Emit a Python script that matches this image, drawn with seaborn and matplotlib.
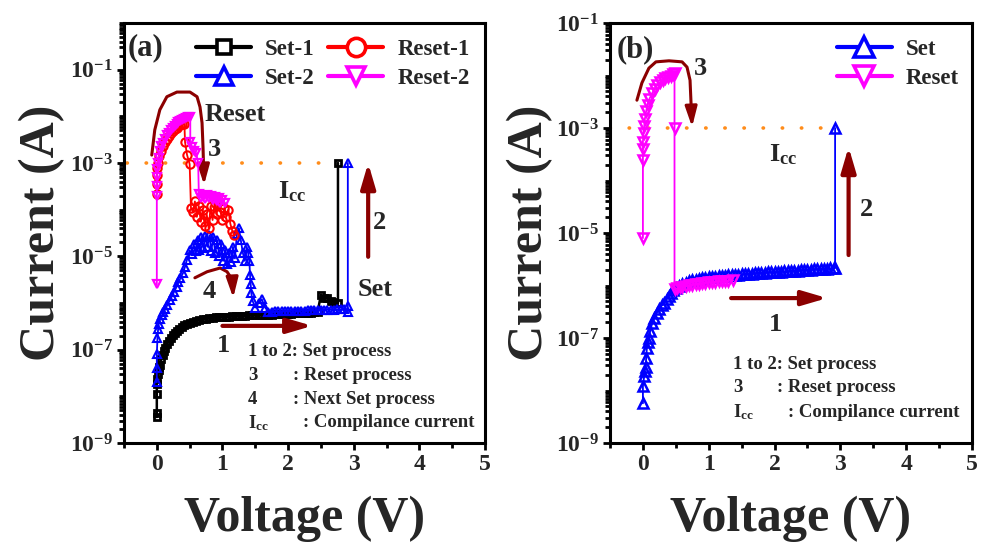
import matplotlib
matplotlib.use("Agg")
import matplotlib.pyplot as plt
import seaborn as sns
from matplotlib.patches import FancyArrowPatch
from matplotlib.path import Path
from matplotlib.ticker import (FixedLocator, LogLocator, LogFormatterSciNotation,
                               MultipleLocator, NullFormatter)

# ---------------- data: panel (a) ----------------
a_set1_v = [0.00, 0.00, 0.00, 0.00, 0.01, 0.02, 0.03, 0.04, 0.05, 0.07, 0.09, 0.11, 0.13, 0.15,
            0.18, 0.21, 0.24, 0.27, 0.30, 0.34, 0.38, 0.42, 0.46, 0.50, 0.55, 0.60, 0.65, 0.70,
            0.75, 0.80, 0.85, 0.90, 0.95, 1.00, 1.05, 1.10, 1.15, 1.20, 1.25, 1.30, 1.35, 1.40,
            1.45, 1.50, 1.55, 1.60, 1.65, 1.70, 1.75, 1.80, 1.85, 1.90, 1.95, 2.00, 2.05, 2.10,
            2.15, 2.20, 2.25, 2.30, 2.35, 2.40, 2.45, 2.50, 2.55, 2.60, 2.65, 2.70, 2.76, 2.76]
a_set1_i = [3.6e-9, 4.3e-9, 1.15e-8, 1.8e-8, 2.4e-8, 3.0e-8, 3.6e-8, 4.2e-8, 4.8e-8, 6.2e-8,
            7.8e-8, 9.5e-8, 1.1e-7, 1.3e-7, 1.55e-7, 1.8e-7, 2.05e-7, 2.3e-7, 2.5e-7, 2.8e-7,
            3.05e-7, 3.3e-7, 3.55e-7, 3.75e-7, 3.95e-7, 4.15e-7, 4.3e-7, 4.45e-7, 4.6e-7, 4.7e-7,
            4.8e-7, 4.9e-7, 4.95e-7, 5.0e-7, 5.05e-7, 5.1e-7, 5.15e-7, 5.2e-7, 5.25e-7, 5.3e-7,
            5.35e-7, 5.4e-7, 5.45e-7, 5.5e-7, 5.5e-7, 5.55e-7, 5.6e-7, 5.6e-7, 5.65e-7, 5.7e-7,
            5.75e-7, 5.8e-7, 5.85e-7, 5.9e-7, 5.95e-7, 6.0e-7, 6.05e-7, 6.1e-7, 6.15e-7, 6.2e-7,
            6.25e-7, 6.3e-7, 6.4e-7, 1.5e-6, 1.25e-6, 1.3e-6, 1.1e-6, 1.05e-6, 1.0e-6, 1.0e-3]

a_set2_v = [0.00, 0.00, 0.00, 0.01, 0.02, 0.03, 0.05, 0.08, 0.10, 0.13, 0.16, 0.20, 0.23, 0.26,
            0.30, 0.33, 0.36, 0.40, 0.43, 0.46, 0.50, 0.53, 0.56, 0.59, 0.62, 0.65, 0.68, 0.71,
            0.74, 0.77, 0.80, 0.83, 0.86, 0.89, 0.92, 0.95, 0.98, 1.01, 1.04, 1.07, 1.10, 1.13,
            1.16, 1.19, 1.22, 1.25, 1.28, 1.31, 1.34, 1.37, 1.39, 1.41, 1.42, 1.43, 1.44, 1.46,
            1.50, 1.55, 1.60, 1.65, 1.70, 1.75, 1.80, 1.85, 1.90, 1.95, 2.00, 2.05, 2.10, 2.15,
            2.20, 2.25, 2.30, 2.35, 2.40, 2.45, 2.50, 2.55, 2.60, 2.65, 2.70, 2.75, 2.80, 2.85,
            2.91, 2.91, 2.91]
a_set2_i = [2.0e-8, 4.0e-8, 8.0e-8, 1.8e-7, 2.8e-7, 3.6e-7, 4.5e-7, 5.5e-7, 6.3e-7, 7.5e-7,
            9.0e-7, 1.15e-6, 1.4e-6, 1.7e-6, 2.2e-6, 2.8e-6, 3.4e-6, 4.4e-6, 6.0e-6, 8.5e-6,
            1.35e-5, 1.1e-5, 1.8e-5, 1.3e-5, 2.2e-5, 1.4e-5, 2.6e-5, 1.5e-5, 2.7e-5, 1.6e-5,
            2.8e-5, 1.3e-5, 2.6e-5, 1.2e-5, 2.2e-5, 1.0e-5, 1.8e-5, 8.0e-6, 1.4e-5, 7.0e-6,
            1.2e-5, 7.5e-6, 1.6e-5, 9.0e-6, 3.0e-5, 4.0e-5, 2.2e-5, 1.2e-5, 8.0e-6, 1.6e-5,
            1.2e-5, 8.0e-6, 4.0e-6, 2.5e-6, 1.6e-6, 1.1e-6, 8.0e-7, 1.0e-6, 1.2e-6, 8.0e-7,
            6.5e-7, 6.5e-7, 6.6e-7, 6.6e-7, 6.7e-7, 6.7e-7, 6.8e-7, 6.8e-7, 6.8e-7, 6.9e-7,
            6.9e-7, 6.9e-7, 7.0e-7, 7.0e-7, 7.0e-7, 7.1e-7, 7.1e-7, 7.1e-7, 7.2e-7, 7.2e-7,
            7.2e-7, 7.3e-7, 7.3e-7, 7.3e-7, 6.3e-7, 8.5e-7, 1.0e-3]

a_reset1_v = [0.00, 0.00, 0.00, 0.01, 0.02, 0.04, 0.06, 0.09, 0.12, 0.15, 0.18, 0.21, 0.24, 0.27,
              0.30, 0.33, 0.36, 0.39, 0.42, 0.43, 0.46, 0.50, 0.52, 0.55, 0.58, 0.61, 0.64, 0.67,
              0.70, 0.73, 0.76, 0.79, 0.82, 0.85, 0.88, 0.91, 0.94, 0.97, 1.00, 1.03, 1.06, 1.09,
              1.12, 1.15, 1.18]
a_reset1_i = [2.2e-4, 3.5e-4, 5.5e-4, 8.0e-4, 1.0e-3, 1.4e-3, 1.8e-3, 2.3e-3, 2.8e-3, 3.3e-3,
              3.8e-3, 4.3e-3, 4.8e-3, 5.3e-3, 5.7e-3, 6.1e-3, 6.5e-3, 6.8e-3, 7.0e-3, 2.8e-3,
              1.5e-3, 9.5e-4, 1.1e-4, 9.0e-5, 1.5e-4, 7.0e-5, 1.2e-4, 5.5e-5, 1.0e-4, 4.5e-5,
              8.0e-5, 4.0e-5, 1.2e-4, 6.0e-5, 1.4e-4, 8.0e-5, 1.5e-4, 9.0e-5, 6.0e-5, 1.1e-4,
              7.0e-5, 1.0e-4, 5.0e-5, 3.5e-5, 2.8e-5]

a_reset2_v = [0.00, 0.00, 0.00, 0.00, 0.01, 0.02, 0.03, 0.05, 0.07, 0.09, 0.12, 0.15, 0.18, 0.21,
              0.24, 0.27, 0.30, 0.33, 0.36, 0.39, 0.42, 0.45, 0.48, 0.51, 0.51, 0.54, 0.57, 0.60,
              0.63, 0.64, 0.67, 0.70, 0.73, 0.76, 0.79, 0.82, 0.85, 0.88, 0.91, 0.94, 0.97, 1.00,
              1.04]
a_reset2_i = [2.5e-6, 2.0e-4, 3.2e-4, 5.0e-4, 7.5e-4, 1.0e-3, 1.3e-3, 1.8e-3, 2.3e-3, 2.7e-3,
              3.3e-3, 3.9e-3, 4.5e-3, 5.1e-3, 5.7e-3, 6.3e-3, 6.9e-3, 7.4e-3, 7.9e-3, 8.4e-3,
              8.8e-3, 9.2e-3, 9.5e-3, 9.7e-3, 2.8e-3, 2.2e-3, 1.8e-3, 1.6e-3, 1.0e-3, 2.2e-4,
              1.8e-4, 2.0e-4, 1.7e-4, 2.1e-4, 1.8e-4, 2.0e-4, 1.6e-4, 1.9e-4, 1.5e-4, 1.8e-4,
              1.4e-4, 1.6e-4, 1.4e-4]

# ---------------- data: panel (b) ----------------
b_set_v = [0.00, 0.00, 0.02, 0.03, 0.04, 0.05, 0.06, 0.08, 0.09, 0.11, 0.14, 0.17, 0.21, 0.25,
           0.29, 0.32, 0.36, 0.39, 0.42, 0.46, 0.50, 0.55, 0.60, 0.65, 0.70, 0.75, 0.80, 0.85,
           0.90, 0.95, 1.00, 1.05, 1.10, 1.15, 1.20, 1.25, 1.30, 1.35, 1.40, 1.45, 1.50, 1.55,
           1.60, 1.65, 1.70, 1.75, 1.80, 1.85, 1.90, 1.95, 2.00, 2.05, 2.10, 2.15, 2.20, 2.25,
           2.30, 2.35, 2.40, 2.45, 2.50, 2.55, 2.60, 2.65, 2.70, 2.75, 2.80, 2.85, 2.90, 2.92,
           2.92]
b_set_i = [5.7e-9, 1.2e-8, 1.9e-8, 2.4e-8, 2.8e-8, 4.2e-8, 6.4e-8, 8.5e-8, 1.0e-7, 1.35e-7,
           1.9e-7, 2.4e-7, 3.0e-7, 3.6e-7, 4.2e-7, 4.7e-7, 5.6e-7, 6.4e-7, 7.2e-7, 8.2e-7,
           9.0e-7, 9.8e-7, 1.06e-6, 1.13e-6, 1.2e-6, 1.25e-6, 1.3e-6, 1.34e-6, 1.38e-6, 1.41e-6,
           1.44e-6, 1.46e-6, 1.48e-6, 1.5e-6, 1.52e-6, 1.54e-6, 1.56e-6, 1.58e-6, 1.6e-6,
           1.62e-6, 1.63e-6, 1.65e-6, 1.67e-6, 1.68e-6, 1.7e-6, 1.72e-6, 1.74e-6, 1.75e-6,
           1.77e-6, 1.79e-6, 1.8e-6, 1.82e-6, 1.84e-6, 1.86e-6, 1.87e-6, 1.89e-6, 1.91e-6,
           1.93e-6, 1.95e-6, 1.96e-6, 1.98e-6, 2.0e-6, 2.02e-6, 2.04e-6, 2.06e-6, 2.08e-6,
           2.1e-6, 2.12e-6, 2.14e-6, 2.15e-6, 1.0e-3]

b_reset_v = [0.00, 0.00, 0.00, 0.00, 0.01, 0.02, 0.03, 0.05, 0.07, 0.10, 0.14, 0.18, 0.22, 0.26,
             0.30, 0.34, 0.38, 0.42, 0.46, 0.48, 0.48, 0.48, 0.52, 0.56, 0.60, 0.65, 0.70, 0.75,
             0.80, 0.85, 0.90, 0.95, 1.00, 1.05, 1.10, 1.15, 1.20, 1.25, 1.30, 1.37]
b_reset_i = [8.0e-6, 2.5e-4, 4.0e-4, 5.5e-4, 8.0e-4, 1.1e-3, 1.5e-3, 2.1e-3, 2.8e-3, 3.6e-3,
             4.6e-3, 5.6e-3, 6.5e-3, 7.4e-3, 8.1e-3, 8.8e-3, 9.4e-3, 1.0e-2, 1.07e-2, 1.1e-2,
             1.0e-3, 8.5e-7, 8.8e-7, 9.2e-7, 9.5e-7, 9.8e-7, 1.01e-6, 1.04e-6, 1.07e-6, 1.09e-6,
             1.11e-6, 1.13e-6, 1.15e-6, 1.17e-6, 1.19e-6, 1.2e-6, 1.21e-6, 1.22e-6, 1.23e-6,
             1.25e-6]

icc_level = 1e-3
icc_a_v = [-0.45, 2.75]
icc_b_v = [-0.5, 2.85]

x_ticks = [0, 1, 2, 3, 4, 5]
y_ticks = [1e-9, 1e-7, 1e-5, 1e-3, 1e-1]
legend_a = ["Set-1", "Set-2", "Reset-1", "Reset-2"]
legend_b = ["Set", "Reset"]
notes_a = [("1 to 2: Set process", ""), ("3", ": Reset process"),
           ("4", ": Next Set process"), ("I$_{\\mathregular{cc}}$", ": Compilance current")]
notes_b = [("1 to 2: Set process", ""), ("3", ": Reset process"),
           ("I$_{\\mathregular{cc}}$", ": Compilance current")]

for a, b in ((a_set1_v, a_set1_i), (a_set2_v, a_set2_i), (a_reset1_v, a_reset1_i),
             (a_reset2_v, a_reset2_i), (b_set_v, b_set_i), (b_reset_v, b_reset_i)):
    assert len(a) == len(b), (len(a), len(b))

# ---------------- style ----------------
sns.set_theme(style="ticks")
plt.rcParams.update({
    "font.family": ["Liberation Serif", "DejaVu Serif"],
    "font.weight": "bold",
    "axes.labelweight": "bold",
    "mathtext.fontset": "custom",
    "mathtext.rm": "Liberation Serif:bold",
    "mathtext.it": "Liberation Serif:bold",
    "mathtext.bf": "Liberation Serif:bold",
    "mathtext.default": "rm",
    "axes.linewidth": 2.2,
    "axes.edgecolor": "black",
    "axes.facecolor": "white",
    "figure.facecolor": "white",
})

DARK = "#8B0000"
ORANGE = "#FF8C1A"

W, H = 984, 544
fig = plt.figure(figsize=(W / 100, H / 100), dpi=100)


def rect(l, t, r, b):
    return [l / W, 1 - b / H, (r - l) / W, (b - t) / H]


axa = fig.add_axes(rect(124, 23, 485, 443))
axb = fig.add_axes(rect(610, 23, 972, 443))


def draw(ax, v, i, color, marker, ms, label, lw=1.3, mew=1.3):
    sns.lineplot(x=v, y=i, ax=ax, sort=False, estimator=None, errorbar=None,
                 color=color, marker=marker, markersize=ms, markerfacecolor="none",
                 markeredgecolor=color, markeredgewidth=mew, linewidth=lw, label=label)


for ax in (axa, axb):
    ax.set_yscale("log")

draw(axa, a_set1_v, a_set1_i, "black", "s", 4.8, legend_a[0], lw=1.8, mew=2.0)
draw(axa, a_set2_v, a_set2_i, "#0000FF", "^", 6.2, legend_a[1], mew=1.5)
draw(axa, a_reset1_v, a_reset1_i, "#FF0000", "o", 6.0, legend_a[2], mew=1.5)
draw(axa, a_reset2_v, a_reset2_i, "#FF00FF", "v", 6.0, legend_a[3], mew=1.6)
draw(axb, b_set_v, b_set_i, "#0000FF", "^", 7.0, legend_b[0], mew=1.8)
draw(axb, b_reset_v, b_reset_i, "#FF00FF", "v", 7.0, legend_b[1], mew=1.8)

for ax, iv in ((axa, icc_a_v), (axb, icc_b_v)):
    ax.plot(iv, [icc_level, icc_level], color=ORANGE, lw=2.6,
            linestyle=(0, (0.1, 5.2)), dash_capstyle="round", zorder=1)

for ax, ylim in ((axa, (1e-9, 1e0)), (axb, (1e-9, 1e-1))):
    ax.set_ylim(*ylim)
    ax.set_xlim(-0.5, 5)
    ax.yaxis.set_major_locator(FixedLocator(y_ticks))
    ax.yaxis.set_major_formatter(LogFormatterSciNotation())
    ax.yaxis.set_minor_locator(LogLocator(base=10, subs=(1, 2, 3, 4, 5, 6, 7, 8, 9), numticks=60))
    ax.yaxis.set_minor_formatter(NullFormatter())
    ax.xaxis.set_major_locator(FixedLocator(x_ticks))
    ax.xaxis.set_minor_locator(MultipleLocator(0.5))
    ax.tick_params(which="both", direction="out", top=False, right=False,
                   width=2.0, color="black")
    ax.tick_params(which="major", length=5, labelsize=17, pad=3)
    ax.tick_params(which="minor", length=3.5)
    for s in ax.spines.values():
        s.set_visible(True)
        s.set_linewidth(2.2)
    ax.set_xlabel("Voltage (V)", fontsize=36, fontweight="bold", labelpad=15)

axa.set_ylabel("Current (A)", fontsize=36, fontweight="bold", labelpad=3.5)
axb.set_ylabel("Current (A)", fontsize=36, fontweight="bold", labelpad=2)

# legends
la = axa.legend(ncol=2, loc="upper left", bbox_to_anchor=(0.2, 0.962), frameon=False,
                fontsize=16.5, markerscale=2.2, handlelength=2.4, handletextpad=0.6,
                columnspacing=0.6, labelspacing=0.33, borderpad=0, borderaxespad=0)
lb = axb.legend(loc="upper right", bbox_to_anchor=(0.963, 0.962), frameon=False,
                fontsize=16.5, markerscale=2.0, handlelength=2.4, handletextpad=0.6,
                labelspacing=0.33, borderpad=0, borderaxespad=0)
for leg in (la, lb):
    for ln in leg.get_lines():
        ln.set_linewidth(3.0)
        ln.set_markeredgewidth(2.6)
        ln.set_markerfacecolor("white")


# arrows
def straight_arrow(ax, x0, y0, x1, y1):
    ax.annotate("", xy=(x1, y1), xytext=(x0, y0),
                arrowprops=dict(arrowstyle="-|>,head_length=0.75,head_width=0.22",
                                color=DARK, lw=3.0, mutation_scale=20,
                                shrinkA=0, shrinkB=0))


def curved_arrow(ax, vs, logs):
    verts = [(v, 10 ** l) for v, l in zip(vs, logs)]
    p = FancyArrowPatch(path=Path(verts),
                        arrowstyle="-|>,head_length=0.6,head_width=0.18",
                        mutation_scale=20, color=DARK, lw=2.2,
                        transform=ax.transData)
    ax.add_patch(p)


straight_arrow(axa, 3.22, 10 ** -5.01, 3.22, 10 ** -3.0)
straight_arrow(axa, 1.0, 10 ** -6.49, 2.37, 10 ** -6.49)
curved_arrow(axa, [-0.077, -0.031, 0.046, 0.153, 0.306, 0.505, 0.613, 0.658, 0.689, 0.704, 0.72],
             [-2.83, -2.29, -1.86, -1.58, -1.48, -1.48, -1.58, -1.80, -2.14, -2.66, -3.47])
curved_arrow(axa, [0.58, 0.766, 0.965, 1.07, 1.15, 1.164],
             [-5.46, -5.33, -5.25, -5.33, -5.50, -5.89])

straight_arrow(axb, 3.125, 10 ** -5.42, 3.125, 10 ** -3.36)
straight_arrow(axb, 1.34, 10 ** -6.24, 2.80, 10 ** -6.24)
curved_arrow(axb, [-0.091, -0.015, 0.091, 0.198, 0.396, 0.595, 0.67, 0.716, 0.747],
             [-2.47, -2.14, -1.86, -1.74, -1.72, -1.74, -1.84, -2.09, -2.98])

# texts
BIG = 19


def t(ax, x, logy, s, size=BIG, ha="left"):
    ax.text(x, 10 ** logy, s, fontsize=size, fontweight="bold", ha=ha, va="center")


axa.text(0.011, 0.94, "(a)", transform=axa.transAxes, fontsize=22, fontweight="bold",
         ha="left", va="center")
axb.text(0.019, 0.936, "(b)", transform=axb.transAxes, fontsize=22, fontweight="bold",
         ha="left", va="center")

t(axa, 0.735, -1.97, "Reset")
t(axa, 0.78, -2.72, "3")
t(axa, 1.85, -3.62, "I$_{\\mathregular{cc}}$")
t(axa, 3.29, -4.28, "2")
t(axa, 3.06, -5.72, "Set")
t(axa, 0.70, -5.76, "4")
t(axa, 0.92, -6.9, "1")
for (lab, desc), ly in zip(notes_a, [-7.04, -7.56, -8.07, -8.57]):
    t(axa, 1.39, ly, lab, size=13.5)
    if desc:
        t(axa, 2.22 if "cc" in lab else 2.08, ly, desc, size=13.5)

t(axb, 0.78, -1.86, "3")
t(axb, 1.92, -3.5, "I$_{\\mathregular{cc}}$")
t(axb, 3.29, -4.56, "2")
t(axb, 1.92, -6.75, "1")
for (lab, desc), ly in zip(notes_b, [-7.5, -7.95, -8.41]):
    t(axb, 1.37, ly, lab, size=13.5)
    if desc:
        t(axb, 2.2 if "cc" in lab else 2.04, ly, desc, size=13.5)

fig.savefig("out.png", dpi=100)
